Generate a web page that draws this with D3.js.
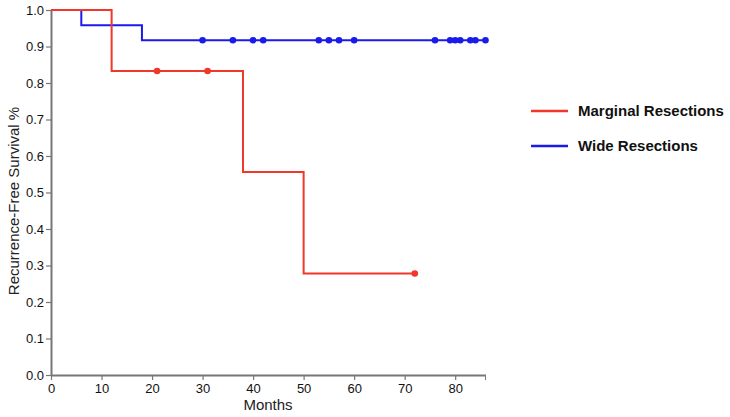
<!DOCTYPE html>
<html><head><meta charset="utf-8">
<script src="https://cdn.jsdelivr.net/npm/d3@7"></script>
<style>body{margin:0;background:#fff;} svg{display:block;font-family:"Liberation Sans",Arial,sans-serif;}</style>
</head><body><svg id="c" width="730" height="417"></svg>
<script>
const seriesNames = ["Marginal Resections", "Wide Resections"];
const colors = ["#f0372a", "#1a1aeb"];
// step curves: [month, survival]
const marginalSteps = [[0,1.0],[12,0.833],[38,0.556],[50,0.278],[72,0.278]];
const wideSteps = [[0,1.0],[6,0.958],[18,0.917],[86,0.917]];
const marginalCensor = [[21,0.833],[31,0.833],[72,0.278]];
const wideCensor = [30,36,40,42,53,55,57,60,76,79,80,81,83,84,86].map(m=>[m,0.917]);
const xTicks = [0,10,20,30,40,50,60,70,80];
const yTicks = [0,0.1,0.2,0.3,0.4,0.5,0.6,0.7,0.8,0.9,1.0];

const svg = d3.select("#c");
const x = d3.scaleLinear().domain([0,86]).range([51,485.5]);
const y = d3.scaleLinear().domain([0,1]).range([375,10]);

const xAxis = svg.append("g").attr("transform","translate(0,375)")
  .call(d3.axisBottom(x).tickValues(xTicks).tickSize(5).tickPadding(2).tickSizeOuter(0).tickFormat(d3.format("d")));
xAxis.append("line").attr("x1",x(86)).attr("x2",x(86)).attr("y1",0).attr("y2",5);
const yAxis = svg.append("g").attr("transform","translate(51,0)")
  .call(d3.axisLeft(y).tickValues(yTicks).tickSize(5).tickPadding(2).tickSizeOuter(0).tickFormat(d3.format(".1f")));
[xAxis,yAxis].forEach(g=>{
  g.selectAll("path.domain").attr("stroke","#777").attr("stroke-width",2);
  g.selectAll(".tick line").attr("stroke-width",1.2);
  g.selectAll("line").attr("stroke","#777");
  g.selectAll("text").attr("font-size",13).attr("fill","#111").attr("font-family","Liberation Sans, Arial, sans-serif");
});
xAxis.selectAll(".tick text").attr("dy","0.85em");

const line = d3.line().x(d=>x(d[0])).y(d=>y(d[1])).curve(d3.curveStepAfter);
const data = [[marginalSteps, marginalCensor],[wideSteps, wideCensor]];
// draw wide first so marginal red is on top
[1,0].forEach(i=>{
  svg.append("path").datum(data[i][0]).attr("d",line).attr("fill","none")
    .attr("stroke",colors[i]).attr("stroke-width",2);
  svg.selectAll(null).data(data[i][1]).enter().append("circle")
    .attr("cx",d=>x(d[0])).attr("cy",d=>y(d[1])).attr("r",3.3).attr("fill",colors[i]);
});

svg.append("text").attr("x",268).attr("y",410).attr("text-anchor","middle")
  .attr("font-size",15).attr("fill","#222").text("Months");
svg.append("text").attr("transform","translate(19,201) rotate(-90)").attr("text-anchor","middle")
  .attr("font-size",15).attr("fill","#222").text("Recurrence-Free Survival %");

const legY = [111,146];
seriesNames.forEach((n,i)=>{
  svg.append("line").attr("x1",531).attr("x2",568).attr("y1",legY[i]).attr("y2",legY[i])
    .attr("stroke",colors[i]).attr("stroke-width",2.5);
  svg.append("text").attr("x",578).attr("y",legY[i]).attr("dy","0.35em")
    .attr("font-size",15).attr("font-weight","bold").attr("fill","#111").text(n);
});
</script></body></html>
